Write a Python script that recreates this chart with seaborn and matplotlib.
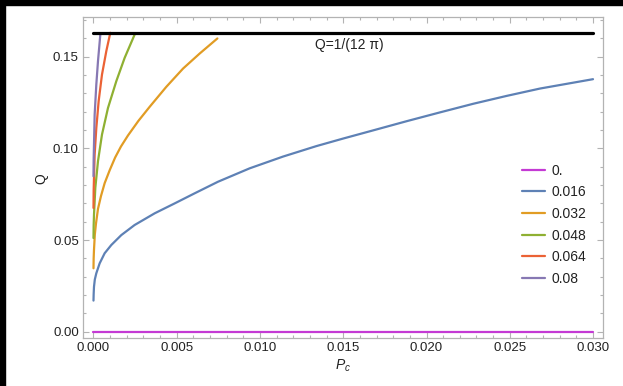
import matplotlib
matplotlib.use("Agg")
import numpy as np
import pandas as pd
import seaborn as sns
import matplotlib.pyplot as plt
from matplotlib.ticker import MultipleLocator, FormatStrFormatter
from matplotlib.lines import Line2D
from matplotlib.patches import Rectangle

# ---- data: Q versus P_c for several values of the parameter ----
charge_labels = ["0.", "0.016", "0.032", "0.048", "0.064", "0.08"]
charge_colors = ["#C43AD4", "#5E81B5", "#E19C24", "#8FB032", "#EB6235", "#8778B3"]

p_0 = [0.0, 0.030]
q_0 = [0.0, 0.0]

p_016 = [0.0, 0.00001, 0.00003, 0.00008, 0.00017, 0.00037, 0.00067, 0.00107,
         0.00167, 0.00247, 0.00368, 0.00488, 0.00608, 0.00748, 0.00938,
         0.01138, 0.01338, 0.01498, 0.0168, 0.01881, 0.02081, 0.02281,
         0.02482, 0.02682, 0.0300]
q_016 = [0.0170, 0.0205, 0.0245, 0.0285, 0.0319, 0.0373, 0.0428, 0.0473,
         0.0527, 0.0582, 0.0646, 0.0700, 0.0755, 0.0818, 0.0891,
         0.0955, 0.1012, 0.1053, 0.1098, 0.1148, 0.1196, 0.1243,
         0.1286, 0.1326, 0.1377]

p_032 = [0.0, 0.00001, 0.00003, 0.00008, 0.00015, 0.00027, 0.00045, 0.00067,
         0.00097, 0.00130, 0.00165, 0.00207, 0.00270, 0.00337, 0.00437,
         0.00538, 0.00638, 0.00744]
q_032 = [0.0346, 0.0400, 0.0446, 0.0530, 0.0590, 0.0670, 0.0740, 0.0810,
         0.0880, 0.0950, 0.1010, 0.1070, 0.1150, 0.1226, 0.1335,
         0.1435, 0.1517, 0.1599]

p_048 = [0.0, 0.00001, 0.00003, 0.00011, 0.00027, 0.00051, 0.00087,
         0.00137, 0.00187, 0.00247]
q_048 = [0.0511, 0.0580, 0.0638, 0.0784, 0.0930, 0.1075, 0.1220,
         0.1366, 0.1493, 0.1620]

p_064 = [0.0, 0.00001, 0.00003, 0.00007, 0.00017, 0.00031, 0.00051,
         0.00077, 0.00101]
q_064 = [0.0675, 0.0770, 0.0839, 0.0966, 0.1111, 0.1257, 0.1402,
         0.1530, 0.1630]

p_080 = [0.0, 0.00001, 0.00003, 0.00007, 0.00017, 0.00027, 0.00041]
q_080 = [0.0848, 0.0940, 0.1020, 0.1184, 0.1348, 0.1475, 0.1620]

bound_p = [0.0, 0.030]
bound_q = [0.1629, 0.1629]
bound_label = "Q=1/(12 π)"

x_ticks = [0.000, 0.005, 0.010, 0.015, 0.020, 0.025, 0.030]
y_ticks = [0.00, 0.05, 0.10, 0.15]

series_p = [p_0, p_016, p_032, p_048, p_064, p_080]
series_q = [q_0, q_016, q_032, q_048, q_064, q_080]

frames = []
for lab, ps, qs in zip(charge_labels, series_p, series_q):
    frames.append(pd.DataFrame({"P": ps, "Q": qs, "charge": lab}))
df = pd.concat(frames, ignore_index=True)

# ---- styling ----
sns.set_theme(style="white")
plt.rcParams["font.family"] = ["Liberation Sans", "DejaVu Sans"]
plt.rcParams["mathtext.fontset"] = "custom"
plt.rcParams["mathtext.it"] = "Liberation Sans:italic"
plt.rcParams["mathtext.rm"] = "Liberation Sans"

frame_col = "#b3b3b3"
text_col = "#222222"

fig = plt.figure(figsize=(6.23, 3.86), dpi=100)
ax = fig.add_axes([83 / 623, 1 - 338 / 386, 520 / 623, 321 / 386])

sns.lineplot(data=df, x="P", y="Q", hue="charge", hue_order=charge_labels,
             palette=charge_colors, sort=False, estimator=None,
             linewidth=1.6, legend=False, ax=ax)
for ln in ax.get_lines():
    ln.set_solid_joinstyle("round")
ax.plot(bound_p, bound_q, color="black", linewidth=2.3)
ax.text(0.0133, 0.1564, bound_label, ha="left", va="center", fontsize=10,
        color=text_col)

ax.set_xlim(-0.00063, 0.0306)
ax.set_ylim(-0.0034, 0.1716)

ax.set_xticks(x_ticks)
ax.set_yticks(y_ticks)
ax.xaxis.set_major_formatter(FormatStrFormatter("%.3f"))
ax.yaxis.set_major_formatter(FormatStrFormatter("%.2f"))
ax.xaxis.set_minor_locator(MultipleLocator(0.001))
ax.yaxis.set_minor_locator(MultipleLocator(0.01))
ax.tick_params(which="both", direction="in", top=True, right=True,
               bottom=True, left=True, color=frame_col, width=0.8,
               labelsize=9.5, labelcolor=text_col)
ax.tick_params(which="major", length=4, pad=3)
ax.tick_params(which="minor", length=2.2)
for s in ax.spines.values():
    s.set_color(frame_col)
    s.set_linewidth(0.9)

ax.set_xlabel(r"$P_c$", fontsize=10, color=text_col)
ax.set_ylabel("Q", fontsize=10, color=text_col)
ax.xaxis.set_label_coords(0.5, -0.062)
ax.yaxis.set_label_coords(-0.066, 0.498)

handles = [Line2D([0], [0], color=c, linewidth=1.6) for c in charge_colors]
ax.legend(handles, charge_labels, loc="center left",
          bbox_to_anchor=((522 - 83) / 520, 0.353), frameon=False,
          fontsize=10, borderpad=0, borderaxespad=0, handlelength=1.65,
          handletextpad=0.45, labelspacing=0.55, labelcolor=text_col)

# dark band along the top and left edges of the canvas
fig.add_artist(Rectangle((0, 1 - 5 / 386), 1, 5 / 386, transform=fig.transFigure,
                         color="black", zorder=10))
fig.add_artist(Rectangle((0, 0), 5 / 623, 1, transform=fig.transFigure,
                         color="black", zorder=10))

fig.savefig("out.png", dpi=100)
